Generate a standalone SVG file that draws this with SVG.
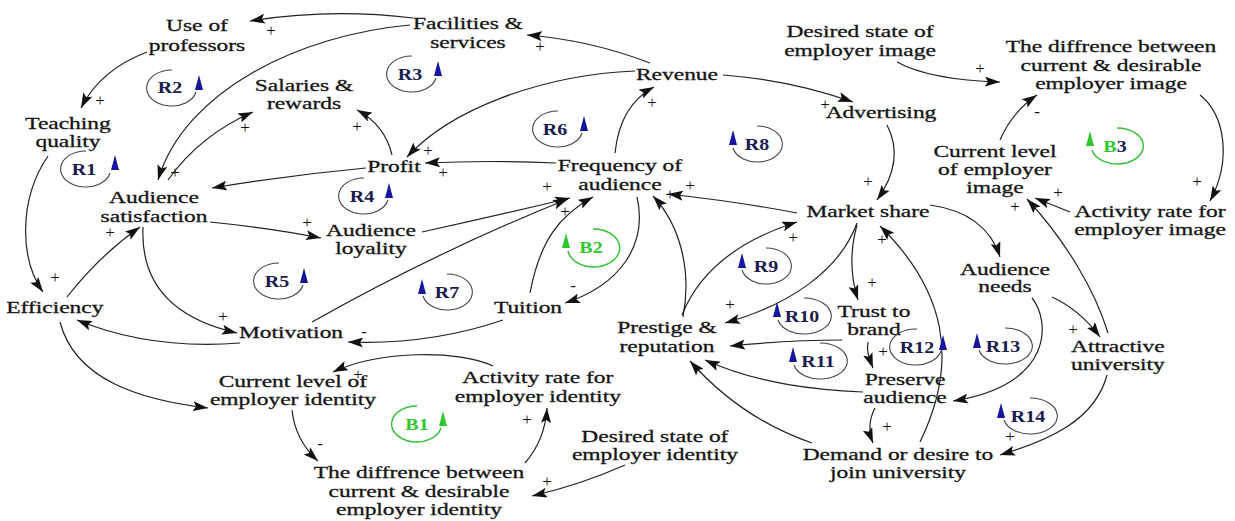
<svg xmlns="http://www.w3.org/2000/svg" width="1235" height="521" viewBox="0 0 1235 521">
<defs>
  <marker id="ah" markerUnits="userSpaceOnUse" markerWidth="16" markerHeight="10" refX="15" refY="5" orient="auto">
    <path d="M0,0 L15,5 L0,10 L3,5 Z" fill="#111"/>
  </marker>
</defs>
<style>
  text { font-family: "Liberation Serif", "Times New Roman", serif; font-size: 17px; fill: #151515; }
  .node text { text-anchor: middle; stroke: #151515; stroke-width: 0.3; transform-box: fill-box; transform-origin: center; transform: scaleX(1.38); }
  .links path { fill: none; stroke: #222; stroke-width: 1.2; marker-end: url(#ah); }
  .pol text { text-anchor: middle; fill: #111; }
  .loop .arc { fill: none; stroke: #444; stroke-width: 1.1; }
  .loop .tri { fill: #1515a0; }
  .loop text { font-weight: bold; font-size: 16px; fill: #1c1c50; text-anchor: middle; transform-box: fill-box; transform-origin: center; transform: scaleX(1.25); }
  .bal .arc { stroke: #33c233; stroke-width: 1.4; }
  .bal .tri { fill: #2ec82e; }
  .bal text { fill: #2ec82e; }
</style>
<rect width="1235" height="521" fill="#fff"/>

<!-- connectors -->
<g class="links" id="connectors">
  <path d="M413,18 Q330,8 250,21"/>
  <path d="M410,25 C300,35 185,90 158,180"/>
  <path d="M147,52 Q100,70 81,108"/>
  <path d="M650,63 Q590,40 527,35"/>
  <path d="M635,71 C540,75 450,110 407,157"/>
  <path d="M615,153 Q620,105 654,87"/>
  <path d="M723,75 Q790,80 853,102"/>
  <path d="M887,125 C900,150 895,175 877,200"/>
  <path d="M897,62 Q930,80 1000,82"/>
  <path d="M1000,140 Q1012,112 1037,95"/>
  <path d="M1200,95 C1225,115 1232,160 1210,201"/>
  <path d="M1070,212 L1035,198"/>
  <path d="M1108,333 C1095,290 1065,240 1027,199"/>
  <path d="M930,205 C965,210 990,225 1000,257"/>
  <path d="M1052,297 Q1080,310 1100,337"/>
  <path d="M1032,298 C1050,320 1055,385 953,401"/>
  <path d="M1107,375 C1095,420 1050,440 1000,455"/>
  <path d="M797,213 Q740,202 668,194"/>
  <path d="M683,317 C692,270 680,225 653,196"/>
  <path d="M682,315 C700,270 740,240 797,222"/>
  <path d="M857,223 C840,270 790,305 725,323"/>
  <path d="M857,225 C850,250 850,275 858,300"/>
  <path d="M920,442 C960,360 945,290 880,226"/>
  <path d="M868,342 C866,352 870,360 873,368"/>
  <path d="M842,340 Q790,340 730,346"/>
  <path d="M863,392 C820,390 760,385 705,360"/>
  <path d="M812,443 C760,425 720,395 690,361"/>
  <path d="M875,408 Q866,425 873,443"/>
  <path d="M637,197 C648,245 620,285 565,303"/>
  <path d="M530,293 C540,240 560,215 593,197"/>
  <path d="M422,232 Q500,215 570,198"/>
  <path d="M312,322 Q440,250 568,199"/>
  <path d="M503,320 Q430,345 348,342"/>
  <path d="M240,343 Q150,350 77,320"/>
  <path d="M143,227 C140,290 180,320 237,333"/>
  <path d="M67,297 Q100,255 140,227"/>
  <path d="M48,156 C18,200 20,260 43,292"/>
  <path d="M210,222 Q270,228 321,238"/>
  <path d="M366,168 Q290,175 212,188"/>
  <path d="M392,155 Q385,125 357,110"/>
  <path d="M168,180 Q200,135 253,112"/>
  <path d="M556,163 Q490,160 425,163"/>
  <path d="M60,322 C75,380 140,400 208,408"/>
  <path d="M493,366 C460,350 380,350 333,372"/>
  <path d="M292,410 Q295,440 318,461"/>
  <path d="M525,463 Q545,440 547,408"/>
  <path d="M625,465 Q580,485 532,496"/>
</g>

<!-- link polarities -->
<g class="pol" id="polarities">
  <text x="271" y="36">+</text>
  <text x="175" y="178">+</text>
  <text x="100" y="106">+</text>
  <text x="540" y="52">+</text>
  <text x="428" y="156">+</text>
  <text x="652" y="108">+</text>
  <text x="825" y="110">+</text>
  <text x="868" y="187">+</text>
  <text x="980" y="74">+</text>
  <text x="1037" y="117">-</text>
  <text x="1197" y="187">+</text>
  <text x="1058" y="198">+</text>
  <text x="1015" y="212">+</text>
  <text x="1073" y="335">+</text>
  <text x="1010" y="442">+</text>
  <text x="690" y="191">+</text>
  <text x="670" y="200">+</text>
  <text x="793" y="243">+</text>
  <text x="730" y="310">+</text>
  <text x="872" y="288">+</text>
  <text x="882" y="245">+</text>
  <text x="883" y="357">+</text>
  <text x="887" y="432">+</text>
  <text x="573" y="291">-</text>
  <text x="565" y="217">+</text>
  <text x="547" y="192">+</text>
  <text x="364" y="337">-</text>
  <text x="223" y="322">+</text>
  <text x="110" y="238">+</text>
  <text x="55" y="283">+</text>
  <text x="307" y="228">+</text>
  <text x="357" y="132">+</text>
  <text x="245" y="133">+</text>
  <text x="443" y="178">+</text>
  <text x="358" y="380">+</text>
  <text x="320" y="449">-</text>
  <text x="527" y="425">+</text>
  <text x="547" y="487">+</text>
</g>

<!-- variables -->
<g class="node" id="use-of-professors"><text x="197" y="31"><tspan x="197">Use of</tspan><tspan x="197" y="51">professors</tspan></text></g>
<g class="node" id="facilities-services"><text x="468" y="29"><tspan x="468">Facilities &amp;</tspan><tspan x="468" y="48">services</tspan></text></g>
<g class="node" id="salaries-rewards"><text x="304" y="91"><tspan x="304">Salaries &amp;</tspan><tspan x="304" y="109">rewards</tspan></text></g>
<g class="node" id="teaching-quality"><text x="68" y="129"><tspan x="68">Teaching</tspan><tspan x="68" y="147">quality</tspan></text></g>
<g class="node" id="audience-satisfaction"><text x="154" y="203"><tspan x="154">Audience</tspan><tspan x="154" y="222">satisfaction</tspan></text></g>
<g class="node" id="efficiency"><text x="55" y="313">Efficiency</text></g>
<g class="node" id="motivation"><text x="291" y="338">Motivation</text></g>
<g class="node" id="profit"><text x="394" y="172">Profit</text></g>
<g class="node" id="audience-loyality"><text x="371" y="236"><tspan x="371">Audience</tspan><tspan x="371" y="254">loyality</tspan></text></g>
<g class="node" id="frequency-of-audience"><text x="620" y="171"><tspan x="620">Frequency of</tspan><tspan x="620" y="190">audience</tspan></text></g>
<g class="node" id="revenue"><text x="677" y="80">Revenue</text></g>
<g class="node" id="advertising"><text x="881" y="118">Advertising</text></g>
<g class="node" id="desired-image"><text x="860" y="37"><tspan x="860">Desired state of</tspan><tspan x="860" y="56">employer image</tspan></text></g>
<g class="node" id="gap-image"><text x="1111" y="52"><tspan x="1111">The diffrence between</tspan><tspan x="1111" y="71">current &amp; desirable</tspan><tspan x="1111" y="89">employer image</tspan></text></g>
<g class="node" id="current-image"><text x="995" y="157"><tspan x="995">Current level</tspan><tspan x="995" y="175">of employer</tspan><tspan x="995" y="193">image</tspan></text></g>
<g class="node" id="activity-image"><text x="1150" y="217"><tspan x="1150">Activity rate for</tspan><tspan x="1150" y="235">employer image</tspan></text></g>
<g class="node" id="market-share"><text x="868" y="217">Market share</text></g>
<g class="node" id="audience-needs"><text x="1005" y="275"><tspan x="1005">Audience</tspan><tspan x="1005" y="292">needs</tspan></text></g>
<g class="node" id="attractive-university"><text x="1118" y="352"><tspan x="1118">Attractive</tspan><tspan x="1118" y="370">university</tspan></text></g>
<g class="node" id="trust-to-brand"><text x="874" y="317"><tspan x="874">Trust to</tspan><tspan x="874" y="335">brand</tspan></text></g>
<g class="node" id="prestige-reputation"><text x="667" y="333"><tspan x="667">Prestige &amp;</tspan><tspan x="667" y="352">reputation</tspan></text></g>
<g class="node" id="tuition"><text x="528" y="313">Tuition</text></g>
<g class="node" id="preserve-audience"><text x="905" y="385"><tspan x="905">Preserve</tspan><tspan x="905" y="403">audience</tspan></text></g>
<g class="node" id="demand-to-join"><text x="898" y="460"><tspan x="898">Demand or desire to</tspan><tspan x="898" y="478">join university</tspan></text></g>
<g class="node" id="current-identity"><text x="293" y="387"><tspan x="293">Current level of</tspan><tspan x="293" y="405">employer identity</tspan></text></g>
<g class="node" id="activity-identity"><text x="538" y="383"><tspan x="538">Activity rate for</tspan><tspan x="538" y="402">employer identity</tspan></text></g>
<g class="node" id="gap-identity"><text x="419" y="478"><tspan x="419">The diffrence between</tspan><tspan x="419" y="497">current &amp; desirable</tspan><tspan x="419" y="515">employer identity</tspan></text></g>
<g class="node" id="desired-identity"><text x="655" y="442"><tspan x="655">Desired state of</tspan><tspan x="655" y="460">employer identity</tspan></text></g>

<!-- loop markers: arc + direction triangle -->
<g class="loop" id="loop-R1"><path class="arc" d="M86,151 A25,18 0 1,0 110,173"/><path class="tri" d="M115,155 L111,170 L119,170 Z"/><text x="84" y="175">R1</text></g>
<g class="loop" id="loop-R2"><path class="arc" d="M172,70 A25,18 0 1,0 196,92"/><path class="tri" d="M199,75 L195,90 L203,90 Z"/><text x="170" y="93">R2</text></g>
<g class="loop" id="loop-R3"><path class="arc" d="M412,56 A25,18 0 1,0 436,78"/><path class="tri" d="M438,61 L434,76 L442,76 Z"/><text x="410" y="80">R3</text></g>
<g class="loop" id="loop-R6"><path class="arc" d="M558,111 A25,18 0 1,0 582,133"/><path class="tri" d="M584,116 L580,131 L588,131 Z"/><text x="555" y="135">R6</text></g>
<g class="loop" id="loop-R4"><path class="arc" d="M364,178 A25,18 0 1,0 388,200"/><path class="tri" d="M389,183 L385,198 L393,198 Z"/><text x="362" y="202">R4</text></g>
<g class="loop" id="loop-R5"><path class="arc" d="M279,263 A25,18 0 1,0 303,285"/><path class="tri" d="M304,268 L300,283 L308,283 Z"/><text x="277" y="287">R5</text></g>
<g class="loop" id="loop-R12"><path class="arc" d="M917,329 A26,18 0 1,0 941,351"/><path class="tri" d="M943,335 L939,350 L947,350 Z"/><text x="917" y="353">R12</text></g>
<g class="loop bal" id="loop-B1"><path class="arc" d="M417,406 A25,18 0 1,0 441,428"/><path class="tri" d="M443,411 L439,426 L447,426 Z"/><text x="417" y="430">B1</text></g>

<g class="loop" id="loop-R8"><path class="arc" d="M757,126 A25,18 0 1,1 733,148"/><path class="tri" d="M733,130 L729,145 L737,145 Z"/><text x="757" y="150">R8</text></g>
<g class="loop" id="loop-R7"><path class="arc" d="M447,274 A25,18 0 1,1 423,296"/><path class="tri" d="M422,279 L418,294 L426,294 Z"/><text x="447" y="298">R7</text></g>
<g class="loop" id="loop-R9"><path class="arc" d="M766,248 A25,18 0 1,1 742,270"/><path class="tri" d="M742,253 L738,268 L746,268 Z"/><text x="766" y="272">R9</text></g>
<g class="loop" id="loop-R10"><path class="arc" d="M804,298 A27,18 0 1,1 778,320"/><path class="tri" d="M777,302 L773,317 L781,317 Z"/><text x="802" y="322">R10</text></g>
<g class="loop" id="loop-R11"><path class="arc" d="M820,343 A27,18 0 1,1 794,365"/><path class="tri" d="M793,347 L789,362 L797,362 Z"/><text x="818" y="367">R11</text></g>
<g class="loop" id="loop-R13"><path class="arc" d="M1005,328 A27,18 0 1,1 979,350"/><path class="tri" d="M977,333 L973,348 L981,348 Z"/><text x="1003" y="352">R13</text></g>
<g class="loop" id="loop-R14"><path class="arc" d="M1030,398 A27,18 0 1,1 1004,420"/><path class="tri" d="M1001,403 L997,418 L1005,418 Z"/><text x="1028" y="422">R14</text></g>
<g class="loop bal" id="loop-B2"><path class="arc" d="M593,229 A26,19 0 1,1 568,251"/><path class="tri" d="M566,233 L562,248 L570,248 Z"/><text x="591" y="253">B2</text></g>
<g class="loop bal" id="loop-B3"><path class="arc" d="M1117,128 A26,18 0 1,1 1092,150"/><path class="tri" d="M1090,131 L1086,146 L1094,146 Z"/><text x="1115" y="152">B<tspan fill="#1c1c50">3</tspan></text></g>
</svg>
